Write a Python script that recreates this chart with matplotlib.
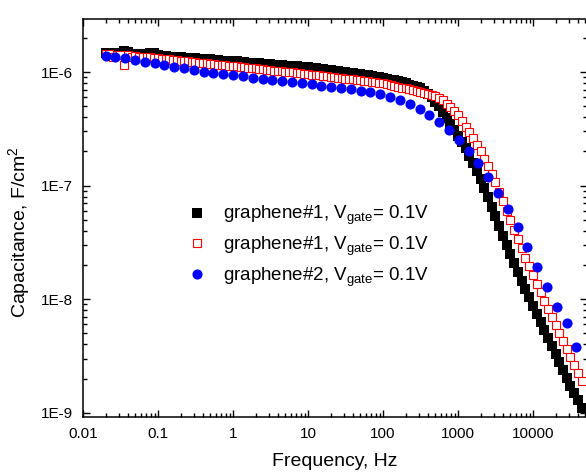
import matplotlib
matplotlib.use('Agg')
import matplotlib.pyplot as plt
from matplotlib.ticker import LogLocator, NullFormatter

plt.rcParams['font.family'] = ['Liberation Sans', 'DejaVu Sans']
plt.rcParams['mathtext.fontset'] = 'custom'
plt.rcParams['mathtext.rm'] = 'Liberation Sans'
plt.rcParams['mathtext.it'] = 'Liberation Sans:italic'

# graphene#1 sweeps (black filled / red open squares), Hz
freq = [0.0200, 0.0224, 0.0251, 0.0282, 0.0316, 0.0355, 0.0398, 0.0447, 0.0501, 0.0562,
        0.0631, 0.0708, 0.0794, 0.0891, 0.100, 0.112, 0.126, 0.141, 0.158, 0.178,
        0.200, 0.224, 0.251, 0.282, 0.316, 0.355, 0.398, 0.447, 0.501, 0.562,
        0.631, 0.708, 0.794, 0.891, 1.00, 1.12, 1.26, 1.41, 1.58, 1.78,
        2.00, 2.24, 2.51, 2.82, 3.16, 3.55, 3.98, 4.47, 5.01, 5.62,
        6.31, 7.08, 7.94, 8.91, 10.0, 11.2, 12.6, 14.1, 15.8, 17.8,
        20.0, 22.4, 25.1, 28.2, 31.6, 35.5, 39.8, 44.7, 50.1, 56.2,
        63.1, 70.8, 79.4, 89.1, 100, 112, 126, 141, 158, 178,
        200, 224, 251, 282, 316, 355, 398, 447, 501, 562,
        631, 708, 794, 891, 1000, 1120, 1260, 1410, 1580, 1780,
        2000, 2240, 2510, 2820, 3160, 3550, 3980, 4470, 5010, 5620,
        6310, 7080, 7940, 8910, 10000, 11200, 12600, 14100, 15800, 17800,
        20000, 22400, 25100, 28200, 31600, 35500, 39800, 44700]

c_black = [1.48e-6, 1.47e-6, 1.47e-6, 1.46e-6, 1.46e-6, 1.52e-6, 1.51e-6, 1.45e-6, 1.44e-6, 1.44e-6,
           1.43e-6, 1.43e-6, 1.48e-6, 1.46e-6, 1.40e-6, 1.39e-6, 1.38e-6, 1.37e-6, 1.37e-6, 1.36e-6,
           1.35e-6, 1.34e-6, 1.33e-6, 1.32e-6, 1.32e-6, 1.31e-6, 1.30e-6, 1.29e-6, 1.29e-6, 1.28e-6,
           1.27e-6, 1.26e-6, 1.26e-6, 1.25e-6, 1.24e-6, 1.24e-6, 1.23e-6, 1.22e-6, 1.21e-6, 1.20e-6,
           1.20e-6, 1.19e-6, 1.18e-6, 1.17e-6, 1.17e-6, 1.16e-6, 1.15e-6, 1.15e-6, 1.14e-6, 1.13e-6,
           1.12e-6, 1.12e-6, 1.11e-6, 1.10e-6, 1.10e-6, 1.09e-6, 1.08e-6, 1.07e-6, 1.06e-6, 1.05e-6,
           1.04e-6, 1.03e-6, 1.02e-6, 1.01e-6, 1.00e-6, 9.89e-7, 9.77e-7, 9.66e-7, 9.55e-7, 9.44e-7,
           9.33e-7, 9.23e-7, 9.12e-7, 9.02e-7, 8.91e-7, 8.75e-7, 8.59e-7, 8.43e-7, 8.28e-7, 8.13e-7,
           7.94e-7, 7.76e-7, 7.59e-7, 7.41e-7, 7.24e-7, 6.87e-7, 6.46e-7, 5.98e-7, 5.50e-7, 4.98e-7,
           4.47e-7, 3.95e-7, 3.47e-7, 3.09e-7, 2.75e-7, 2.43e-7, 2.14e-7, 1.84e-7, 1.58e-7, 1.35e-7,
           1.15e-7, 9.55e-8, 7.94e-8, 6.53e-8, 5.37e-8, 4.42e-8, 3.63e-8, 3.02e-8, 2.51e-8, 2.09e-8,
           1.74e-8, 1.46e-8, 1.23e-8, 1.04e-8, 8.71e-9, 7.41e-9, 6.31e-9, 5.37e-9, 4.57e-9, 3.89e-9,
           3.31e-9, 2.82e-9, 2.40e-9, 2.04e-9, 1.74e-9, 1.50e-9, 1.29e-9, 1.10e-9]

c_red = [1.44e-6, 1.43e-6, 1.35e-6, 1.42e-6, 1.41e-6, 1.16e-6, 1.40e-6, 1.35e-6, 1.39e-6, 1.37e-6,
         1.37e-6, 1.36e-6, 1.36e-6, 1.34e-6, 1.32e-6, 1.31e-6, 1.30e-6, 1.29e-6, 1.28e-6, 1.27e-6,
         1.26e-6, 1.25e-6, 1.24e-6, 1.23e-6, 1.22e-6, 1.21e-6, 1.20e-6, 1.19e-6, 1.18e-6, 1.17e-6,
         1.16e-6, 1.16e-6, 1.15e-6, 1.14e-6, 1.13e-6, 1.12e-6, 1.11e-6, 1.10e-6, 1.09e-6, 1.08e-6,
         1.08e-6, 1.07e-6, 1.06e-6, 1.05e-6, 1.04e-6, 1.03e-6, 1.02e-6, 1.02e-6, 1.01e-6, 1.00e-6,
         9.91e-7, 9.84e-7, 9.75e-7, 9.68e-7, 9.59e-7, 9.51e-7, 9.42e-7, 9.33e-7, 9.25e-7, 9.16e-7,
         9.08e-7, 8.99e-7, 8.91e-7, 8.83e-7, 8.75e-7, 8.69e-7, 8.61e-7, 8.53e-7, 8.45e-7, 8.38e-7,
         8.30e-7, 8.22e-7, 8.15e-7, 8.07e-7, 8.00e-7, 7.85e-7, 7.71e-7, 7.57e-7, 7.43e-7, 7.29e-7,
         7.18e-7, 7.05e-7, 6.92e-7, 6.79e-7, 6.67e-7, 6.56e-7, 6.46e-7, 6.28e-7, 6.10e-7, 5.86e-7,
         5.62e-7, 5.28e-7, 4.95e-7, 4.55e-7, 4.17e-7, 3.72e-7, 3.31e-7, 2.94e-7, 2.62e-7, 2.30e-7,
         2.01e-7, 1.73e-7, 1.49e-7, 1.26e-7, 1.07e-7, 8.85e-8, 7.35e-8, 6.04e-8, 4.97e-8, 4.09e-8,
         3.37e-8, 2.81e-8, 2.33e-8, 1.95e-8, 1.62e-8, 1.36e-8, 1.15e-8, 9.68e-9, 8.17e-9, 6.95e-9,
         5.92e-9, 5.04e-9, 4.29e-9, 3.65e-9, 3.10e-9, 2.64e-9, 2.25e-9, 1.91e-9]

# graphene#2 (blue circles)
freq_blue = [0.0200, 0.0270, 0.0365, 0.0494, 0.0667, 0.0902, 0.122, 0.165, 0.223, 0.301,
             0.406, 0.549, 0.743, 1.00, 1.36, 1.83, 2.48, 3.35, 4.52, 6.11,
             8.26, 11.2, 15.1, 20.4, 27.5, 37.2, 50.4, 68.0, 91.9, 124,
             168, 227, 307, 414, 560, 757, 1023, 1383, 1869, 2525,
             3413, 4613, 6235, 8427, 11390, 15390, 20800, 28100, 38000]
c_blue = [1.39e-6, 1.35e-6, 1.32e-6, 1.28e-6, 1.23e-6, 1.19e-6, 1.15e-6, 1.11e-6, 1.08e-6, 1.04e-6,
          1.01e-6, 9.86e-7, 9.66e-7, 9.41e-7, 9.17e-7, 8.95e-7, 8.68e-7, 8.51e-7, 8.33e-7, 8.11e-7,
          7.96e-7, 7.79e-7, 7.58e-7, 7.43e-7, 7.28e-7, 7.09e-7, 6.84e-7, 6.62e-7, 6.40e-7, 6.02e-7,
          5.63e-7, 5.23e-7, 4.72e-7, 4.18e-7, 3.65e-7, 3.08e-7, 2.52e-7, 2.02e-7, 1.58e-7, 1.19e-7,
          8.61e-8, 6.22e-8, 4.32e-8, 2.88e-8, 1.92e-8, 1.28e-8, 8.53e-9, 6.17e-9, 3.79e-9]

labels = ['graphene#1, V$_{\\mathrm{gate}}$= 0.1V',
          'graphene#1, V$_{\\mathrm{gate}}$= 0.1V',
          'graphene#2, V$_{\\mathrm{gate}}$= 0.1V']

x_ticks = [0.01, 0.1, 1, 10, 100, 1000, 10000]
x_ticklabels = ['0.01', '0.1', '1', '10', '100', '1000', '10000']
y_ticks = [1e-9, 1e-8, 1e-7, 1e-6]
y_ticklabels = ['1E-9', '1E-8', '1E-7', '1E-6']

fig = plt.figure(figsize=(5.86, 4.73), dpi=100)
ax = fig.add_axes([83/586, 1 - 417/473, (587 - 83)/586, (417 - 19)/473])

ax.plot(freq, c_black, 's', color='black', ms=7.3, mew=0, label=labels[0])
ax.plot(freq, c_red, 's', mfc='white', mec='red', ms=6.0, mew=0.8, label=labels[1])
ax.plot(freq_blue, c_blue, 'o', color='blue', ms=7.3, mew=0, label=labels[2])

ax.set_xscale('log')
ax.set_yscale('log')
ax.set_xlim(0.01, 52500)
ax.set_ylim(9.2e-10, 2.93e-6)

ax.set_xticks(x_ticks)
ax.set_xticklabels(x_ticklabels)
ax.set_yticks(y_ticks)
ax.set_yticklabels(y_ticklabels)
ax.xaxis.set_minor_locator(LogLocator(base=10, subs=range(2, 10), numticks=30))
ax.yaxis.set_minor_locator(LogLocator(base=10, subs=range(2, 10), numticks=30))
ax.xaxis.set_minor_formatter(NullFormatter())
ax.yaxis.set_minor_formatter(NullFormatter())

ax.tick_params(which='both', direction='in', top=True, right=True, width=1, labelsize=11)
ax.tick_params(which='major', length=5.3, pad=7)
ax.tick_params(which='minor', length=3)
for s in ax.spines.values():
    s.set_linewidth(1.1)

ax.set_xlabel('Frequency, Hz', fontsize=14, labelpad=9)
ax.set_ylabel('Capacitance, F/cm$^2$', fontsize=14)
ax.yaxis.set_label_coords(-0.101, 0.465)

ax.legend(loc='center left', bbox_to_anchor=(0.320, 0.479), bbox_transform=fig.transFigure,
          frameon=False, fontsize=13.5, numpoints=1, handlelength=1, handletextpad=0.9,
          labelspacing=0.4, borderpad=0, borderaxespad=0)

fig.savefig('out.png', dpi=100)
